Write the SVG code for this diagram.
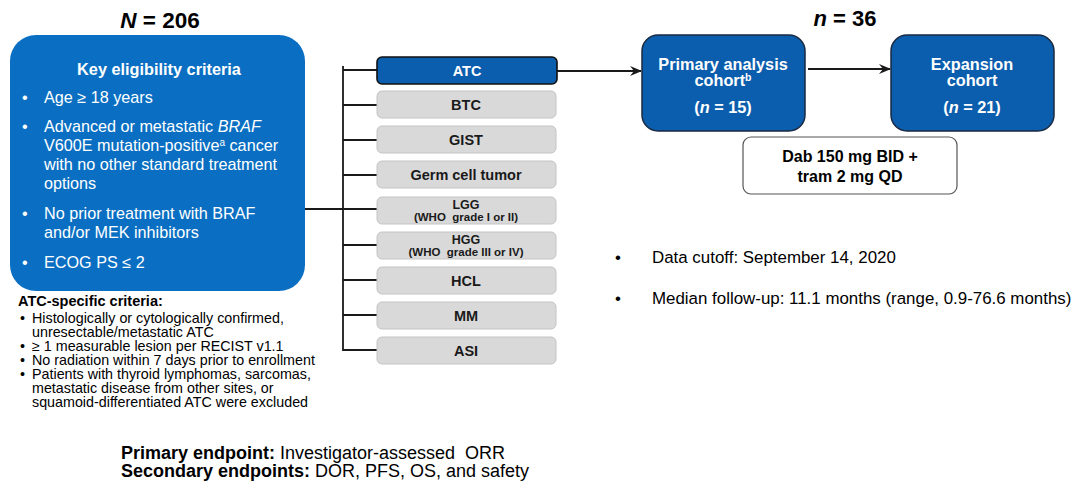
<svg xmlns="http://www.w3.org/2000/svg" width="1074" height="483" viewBox="0 0 1074 483">
<style>
text{font-family:"Liberation Sans",Arial,sans-serif;}
.b{font-weight:bold;}
.w{fill:#fff;}
.gray{fill:#D9D9D9;stroke:#C4C4C4;stroke-width:1;}
.gt{font-weight:bold;font-size:14.5px;fill:#1a1a1a;text-anchor:middle;}
.gm{font-weight:bold;font-size:12.5px;fill:#1a1a1a;text-anchor:middle;}
.gs{font-weight:bold;font-size:11.5px;fill:#1a1a1a;text-anchor:middle;}
.ln{stroke:#1a1a1a;stroke-width:1.8;fill:none;}
.coh{fill:#0B5DAD;stroke:#1a2a40;stroke-width:1.5;}
.ct{font-weight:bold;font-size:16.3px;fill:#fff;text-anchor:middle;}
.lt{font-size:16.2px;fill:#fff;}
.st{font-size:14.3px;fill:#000;}
</style>
<defs>
<marker id="ah" viewBox="0 0 12 10" refX="11" refY="5" markerWidth="12" markerHeight="10" markerUnits="userSpaceOnUse" orient="auto">
<path d="M0,0 L12,5 L0,10 L4,5 Z" fill="#1a1a1a"/>
</marker>
</defs>
<rect width="1074" height="483" fill="#fff"/>

<text x="160" y="28" text-anchor="middle" class="b" font-size="22.5"><tspan font-style="italic">N</tspan> = 206</text>
<text x="845" y="26" text-anchor="middle" class="b" font-size="22"><tspan font-style="italic">n</tspan> = 36</text>

<g id="eligibility">
<rect x="10" y="35" width="295" height="256" rx="26" fill="#0A6FC2"/>
<text x="159" y="75" text-anchor="middle" class="b w" font-size="16.3">Key eligibility criteria</text>
<g class="lt">
<text x="22" y="103">•</text><text x="44" y="103">Age ≥ 18 years</text>
<text x="22" y="132">•</text><text x="44" y="132">Advanced or metastatic <tspan font-style="italic">BRAF</tspan></text>
<text x="44" y="151">V600E mutation-positive<tspan font-size="10" dy="-5">a</tspan><tspan dy="5"> cancer</tspan></text>
<text x="44" y="170">with no other standard treatment</text>
<text x="44" y="189">options</text>
<text x="22" y="219">•</text><text x="44" y="219">No prior treatment with BRAF</text>
<text x="44" y="238">and/or MEK inhibitors</text>
<text x="22" y="268">•</text><text x="44" y="268">ECOG PS ≤ 2</text>
</g>
</g>

<g id="atc-criteria">
<text x="18" y="306" class="b" font-size="14.5">ATC-specific criteria:</text>
<g class="st">
<text x="20" y="323">•</text><text x="32" y="323">Histologically or cytologically confirmed,</text>
<text x="32" y="337">unresectable/metastatic ATC</text>
<text x="20" y="351">•</text><text x="32" y="351">≥ 1 measurable lesion per RECIST v1.1</text>
<text x="20" y="365">•</text><text x="32" y="365">No radiation within 7 days prior to enrollment</text>
<text x="20" y="379">•</text><text x="32" y="379">Patients with thyroid lymphomas, sarcomas,</text>
<text x="32" y="393">metastatic disease from other sites, or</text>
<text x="32" y="407">squamoid-differentiated ATC were excluded</text>
</g>
</g>

<g id="connectors">
<path class="ln" d="M305,209 H343 M343,66 V351 M343,70 H377 M343,105 H377 M343,140 H377 M343,175 H377 M343,245 H377 M343,280 H377 M343,315 H377 M343,350 H377 M343,209 H377"/>
<line class="ln" x1="557" y1="71" x2="641" y2="71" marker-end="url(#ah)"/>
<line class="ln" x1="808" y1="69" x2="890" y2="69" marker-end="url(#ah)"/>
</g>

<g id="atc"><rect x="377" y="57" width="180" height="27" rx="5" fill="#0B5DAD" stroke="#111" stroke-width="1.6"/><text x="467" y="76" class="gt" style="fill:#fff">ATC</text></g>
<g id="btc"><rect class="gray" x="377" y="91" width="179" height="27" rx="5"/><text x="466" y="110" class="gt">BTC</text></g>
<g id="gist"><rect class="gray" x="377" y="126" width="179" height="27" rx="5"/><text x="466" y="145" class="gt">GIST</text></g>
<g id="germ"><rect class="gray" x="377" y="161" width="179" height="27" rx="5"/><text x="466" y="180" class="gt">Germ cell tumor</text></g>
<g id="lgg"><rect class="gray" x="377" y="197" width="179" height="27" rx="5"/><text x="466" y="209" class="gm">LGG</text><text x="466" y="221" class="gs" xml:space="preserve">(WHO  grade I or II)</text></g>
<g id="hgg"><rect class="gray" x="377" y="232" width="179" height="27" rx="5"/><text x="466" y="244" class="gm">HGG</text><text x="466" y="256" class="gs" xml:space="preserve">(WHO  grade III or IV)</text></g>
<g id="hcl"><rect class="gray" x="377" y="267" width="179" height="27" rx="5"/><text x="466" y="286" class="gt">HCL</text></g>
<g id="mm"><rect class="gray" x="377" y="302" width="179" height="27" rx="5"/><text x="466" y="321" class="gt">MM</text></g>
<g id="asi"><rect class="gray" x="377" y="337" width="179" height="27" rx="5"/><text x="466" y="356" class="gt">ASI</text></g>

<g id="primary">
<rect class="coh" x="642" y="35" width="163" height="96" rx="16"/>
<text x="723" y="70" class="ct">Primary analysis</text>
<text x="723" y="86" class="ct">cohort<tspan font-size="10.5" dy="-5">b</tspan></text>
<text x="723" y="113" class="ct">(<tspan font-style="italic">n</tspan> = 15)</text>
</g>
<g id="expansion">
<rect class="coh" x="891" y="35" width="163" height="96" rx="16"/>
<text x="972" y="70" class="ct">Expansion</text>
<text x="972" y="86" class="ct">cohort</text>
<text x="972" y="113" class="ct">(<tspan font-style="italic">n</tspan> = 21)</text>
</g>
<g id="dose">
<rect x="743" y="137" width="214" height="57" rx="8" fill="#fff" stroke="#555" stroke-width="1.2"/>
<text x="850" y="162" text-anchor="middle" class="b" font-size="16">Dab 150 mg BID +</text>
<text x="850" y="182" text-anchor="middle" class="b" font-size="16">tram 2 mg QD</text>
</g>

<g id="notes" font-size="16.9">
<text x="615" y="263">•</text><text x="652" y="263">Data cutoff: September 14, 2020</text>
<text x="615" y="304">•</text><text x="652" y="304">Median follow-up: 11.1 months (range, 0.9-76.6 months)</text>
</g>

<g id="endpoints" font-size="18">
<text x="121" y="459" xml:space="preserve"><tspan class="b">Primary endpoint:</tspan> Investigator-assessed  ORR</text>
<text x="121" y="477"><tspan class="b">Secondary endpoints:</tspan> DOR, PFS, OS, and safety</text>
</g>
</svg>
